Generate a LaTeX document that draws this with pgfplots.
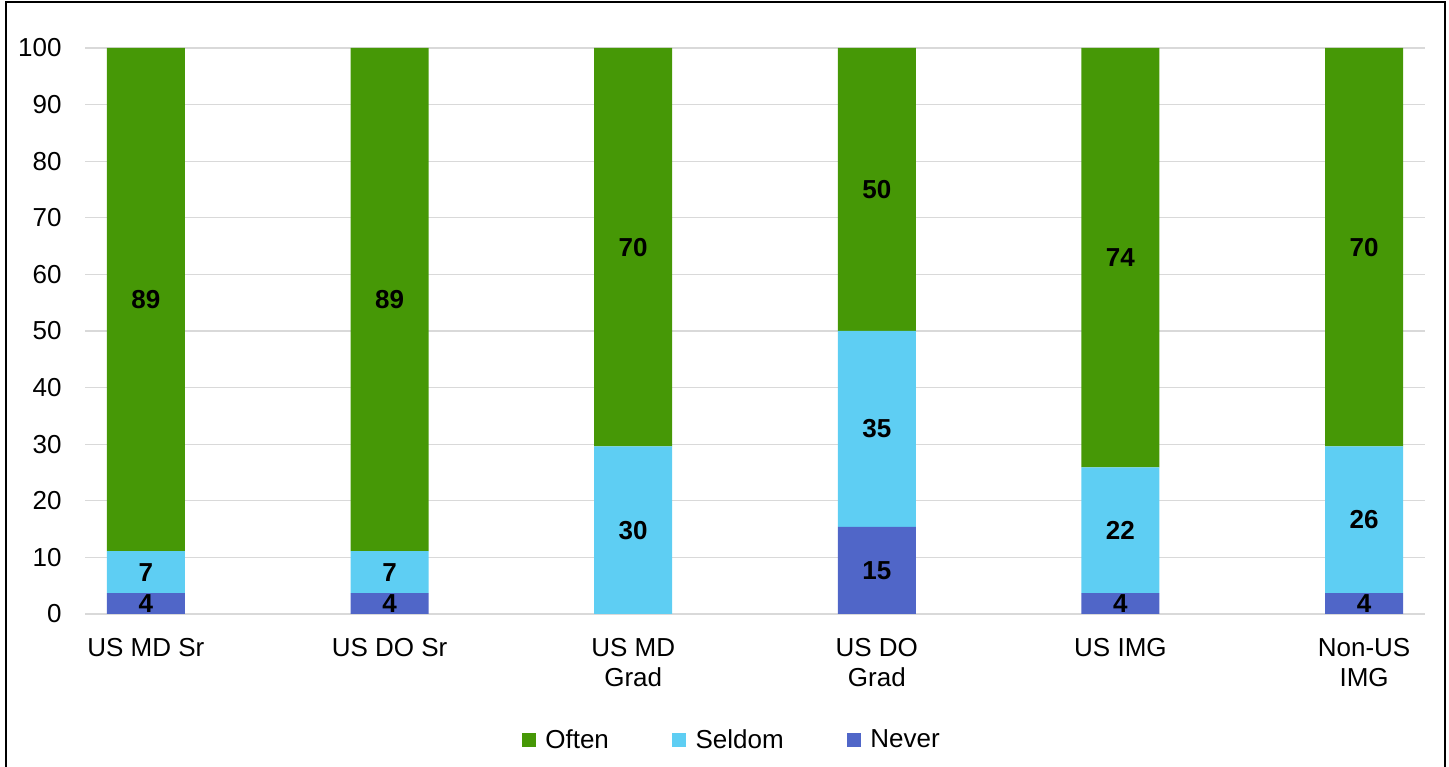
\documentclass[border=0pt]{standalone}
\usepackage{pgfplots}
\pgfplotsset{compat=1.18}
\usepackage{pgfplotstable}
\usepackage{fontspec}
\setmainfont{Liberation Sans}
\definecolor{cOften}{RGB}{70,152,6}
\definecolor{cSeldom}{RGB}{94,206,243}
\definecolor{cNever}{RGB}{80,102,200}
\definecolor{cGrid}{RGB}{217,217,217}
\pgfplotstableread{
x never seldom often
0 3.7 7.4 88.9
1 3.7 7.4 88.9
2 0 29.6 70.4
3 15.4 34.6 50
4 3.7 22.2 74.1
5 3.7 25.9 70.4
}\data
\pgfplotsset{sq legend/.style={legend image code/.code={\fill[##1,draw=none] (0pt,-5.25pt) rectangle (10.5pt,5.25pt);}}}
\begin{document}
\begin{tikzpicture}
\useasboundingbox (0pt,0pt) rectangle (1086.75pt,575.25pt);
\draw[line width=1.5pt] (4.5pt,-5pt) -- (4.5pt,573.75pt) -- (1083.75pt,573.75pt) -- (1083.75pt,-5pt);
\begin{axis}[
  at={(63.75pt,114.75pt)}, anchor=south west,
  scale only axis, width=1005pt, height=424.5pt,
  ybar stacked, bar width=0.32,
  xmin=-0.25, xmax=5.25, ymin=0, ymax=100,
  ytick={0,10,...,100},
  xtick={0,...,5},
  xticklabels={US MD Sr, US DO Sr, {US MD\\Grad}, {US DO\\Grad}, US IMG, {Non-US\\IMG}},
  axis line style={draw=none},
  major tick length=0pt,
  ymajorgrids, grid style={cGrid, line width=1pt},
  /pgf/number format/assume math mode=true,
  tick label style={font=\fontsize{19.5}{22.5}\selectfont},
  xticklabel style={align=center, yshift=-15pt},
  yticklabel style={xshift=-14pt},
  point meta=explicit,
  nodes near coords={\pgfmathfloatifflags{\pgfplotspointmeta}{0}{}{\pgfmathprintnumber[fixed,precision=0]{\pgfplotspointmeta}}},
  every node near coord/.append style={font=\fontsize{19.5}{22.5}\selectfont\bfseries, text=black, anchor=center},
  legend columns=3,
  legend style={draw=none, at={(axis description cs:0.483,-0.2226)}, anchor=center, font=\fontsize{19.5}{22.5}\selectfont,
    /tikz/every odd column/.append style={column sep=5pt},
    /tikz/every even column/.append style={column sep=45.5pt}},
]
\addplot+[forget plot, fill=cNever, draw=none] table[x=x, y=never, meta=never] {\data};
\addplot+[forget plot, fill=cSeldom, draw=none] table[x=x, y=seldom, meta=seldom] {\data};
\addplot+[forget plot, fill=cOften, draw=none] table[x=x, y=often, meta=often] {\data};
\addlegendimage{sq legend, fill=cOften, draw=none}
\addlegendentry{Often}
\addlegendimage{sq legend, fill=cSeldom, draw=none}
\addlegendentry{Seldom}
\addlegendimage{sq legend, fill=cNever, draw=none}
\addlegendentry{Never}
\end{axis}
\end{tikzpicture}
\end{document}
